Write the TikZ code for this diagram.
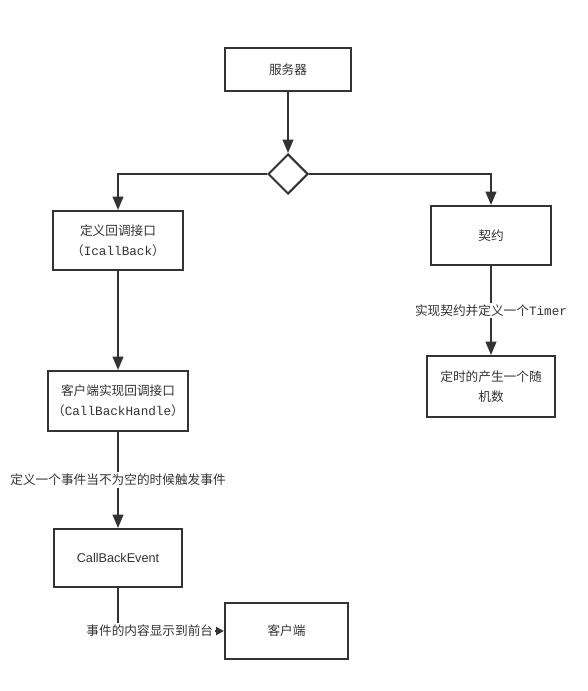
\documentclass[tikz,border=0pt]{standalone}
\usepackage{fontspec}
\setmainfont{Noto Sans CJK SC}
\setmonofont{Liberation Mono}
\newfontfamily\latinsans{Liberation Sans}
\usetikzlibrary{arrows.meta,positioning,shapes.geometric}
\definecolor{ink}{HTML}{333333}
\tikzset{
  box/.style={draw=ink, fill=white, line width=1.5pt, align=center, inner sep=3pt,
              text=ink, font=\fontsize{9.5}{15}\selectfont},
  decision/.style={diamond, draw=ink, fill=white, line width=1.5pt, aspect=1,
                   minimum width=30pt, minimum height=30pt, inner sep=0pt},
  arrow/.style={-{Triangle[length=10pt,width=8pt]}, line width=1.5pt, draw=ink},
  smallarrow/.style={-{Triangle[length=6pt,width=6pt]}, line width=1.5pt, draw=ink},
  lbl/.style={fill=white, inner sep=1.5pt, text=ink, font=\fontsize{9.5}{12}\selectfont}
}
\begin{document}
\begin{tikzpicture}[x=0.75pt,y=-0.75pt]
  \useasboundingbox (0,0) rectangle (587,691);

  % server and branch
  \node[box,minimum width=94.5pt,minimum height=32.25pt] (srv) at (288,69.5) {服务器};
  \node[decision] (dec) at (288,174) {};

  % left column
  \node[box,minimum width=97.5pt,minimum height=44.25pt] (iface) at (118,240.5)
    {定义回调接口\\（\texttt{IcallBack}）};
  \node[box,minimum width=105pt,minimum height=45pt] (impl) at (118,401)
    {客户端实现回调接口\\（\texttt{CallBackHandle}）};
  \node[box,minimum width=96pt,minimum height=43.5pt] (evt) at (118,558)
    {\latinsans CallBackEvent};
  \node[box,minimum width=92.25pt,minimum height=42pt] (client) at (286.5,631) {客户端};

  % right column
  \node[box,minimum width=90pt,minimum height=44.25pt] (contract) at (491,235.5) {契约};
  \node[box,minimum width=96pt,minimum height=45.75pt] (timer) at (491,386.5)
    {定时的产生一个随\\机数};

  % connectors
  \draw[arrow] (srv) -- (dec);
  \draw[arrow] (dec.west) -| (iface.north);
  \draw[arrow] (dec.east) -| (contract.north);
  \draw[arrow] (contract) -- node[lbl] {实现契约并定义一个\texttt{Timer}} (timer);
  \draw[arrow] (iface) -- (impl);
  \draw[arrow] (impl) -- node[lbl] {定义一个事件当不为空的时候触发事件} (evt);
  \draw[smallarrow] (evt.south) |- node[lbl,pos=0.65] {事件的内容显示到前台} (client.west);
\end{tikzpicture}
\end{document}
